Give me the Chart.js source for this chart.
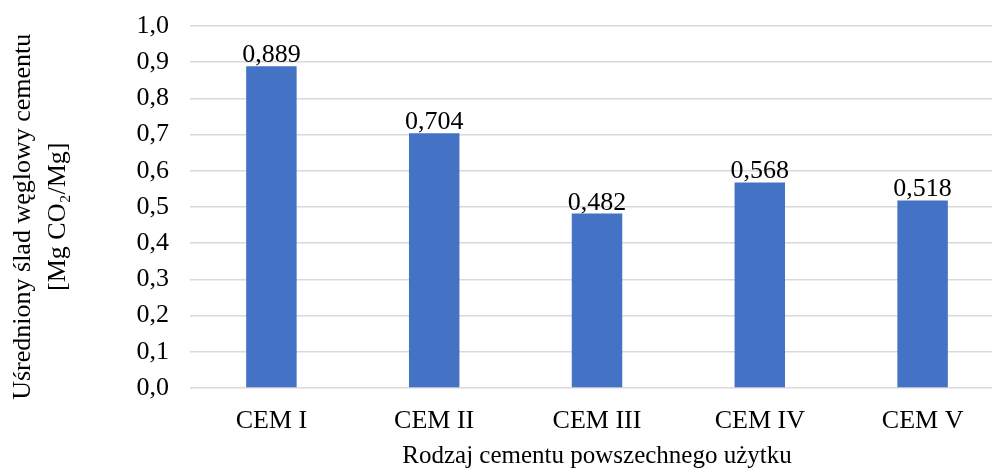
<!DOCTYPE html>
<html lang="pl">
<head>
<meta charset="utf-8">
<title>Uśredniony ślad węglowy cementu</title>
<script src="https://cdn.jsdelivr.net/npm/chart.js@4"></script>
<style>
  html, body { margin: 0; padding: 0; background: #fff; overflow: hidden; }
  canvas { display: block; }
</style>
</head>
<body>
<canvas id="sladChart" width="1006" height="469"></canvas>
<script>
const rodzaje = ["CEM I", "CEM II", "CEM III", "CEM IV", "CEM V"];
const sladWeglowy = [0.889, 0.704, 0.482, 0.568, 0.518];
const yTitel = ["Uśredniony ślad węglowy cementu", "[Mg CO₂/Mg]"];
const xTitel = "Rodzaj cementu powszechnego użytku";

const FONT = "'Liberation Serif', 'Times New Roman', serif";
const BAR_COLOR = "#4472C4";
const GRID_COLOR = "#d9d9d9";

const komma = (v, n) => v.toFixed(n).replace(".", ",");

// Wartosci nad slupkami
const wartosciPlugin = {
  id: "wartosci",
  afterDatasetsDraw(chart) {
    const ctx = chart.ctx;
    const meta = chart.getDatasetMeta(0);
    ctx.save();
    ctx.font = `26px ${FONT}`;
    ctx.fillStyle = "#000";
    ctx.textAlign = "center";
    ctx.textBaseline = "alphabetic";
    meta.data.forEach((bar, i) => {
      ctx.fillText(komma(sladWeglowy[i], 3), bar.x, bar.y - 4);
    });
    ctx.restore();
  }
};

function renderSladChart() {
  const ctx = document.getElementById("sladChart").getContext("2d");

  new Chart(ctx, {
    type: "bar",
    data: {
      labels: rodzaje,
      datasets: [{
        data: sladWeglowy,
        backgroundColor: BAR_COLOR,
        barPercentage: 0.31,
        categoryPercentage: 1
      }]
    },
    options: {
      responsive: false,
      animation: false,
      layout: { padding: { top: 26, right: 2, bottom: 0, left: 0 } },
      scales: {
        x: {
          afterFit: scale => { scale.height = 81; },
          grid: { display: false },
          border: { display: false },
          ticks: {
            color: "#000",
            padding: 10,
            font: { family: FONT, size: 26 }
          },
          title: {
            display: true,
            text: xTitel,
            color: "#000",
            padding: { top: 0, bottom: 0 },
            font: { family: FONT, size: 25, lineHeight: 1 }
          }
        },
        y: {
          min: 0,
          max: 1,
          afterFit: scale => {
            scale.width = 190;
            scale.paddingTop = 0;
            scale.paddingBottom = 0;
          },
          grid: { color: GRID_COLOR, lineWidth: 1.5, drawTicks: false },
          border: { display: false },
          ticks: {
            stepSize: 0.1,
            color: "#000",
            padding: 21,
            font: { family: FONT, size: 26 },
            callback: value => komma(value, 1)
          },
          title: {
            display: true,
            // title sits a bit lower than the plot centre in the original
            text: yTitel.map(t => t + "   "),
            color: "#000",
            padding: { top: 5.5, bottom: 0 },
            font: { family: FONT, size: 26, lineHeight: 1.35 }
          }
        }
      },
      plugins: {
        legend: { display: false },
        tooltip: { enabled: false }
      }
    },
    plugins: [wartosciPlugin]
  });
}

document.addEventListener("DOMContentLoaded", renderSladChart);
</script>
</body>
</html>
